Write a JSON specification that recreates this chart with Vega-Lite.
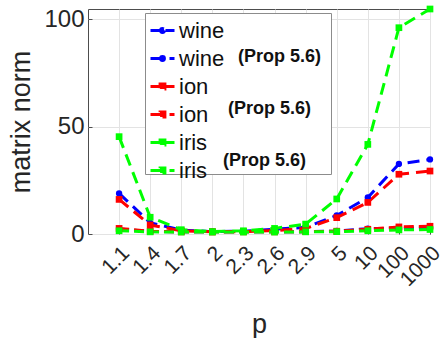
{
  "$schema": "https://vega.github.io/schema/vega-lite/v6.json",
  "width": 342,
  "height": 225,
  "autosize": "none",
  "padding": {"left": 88, "top": 9, "right": 13, "bottom": 104},
  "background": "white",
  "config": {
    "view": {"stroke": "#4d4d4d", "strokeWidth": 1},
    "font": "Liberation Sans",
    "legend": {"symbolBaseFillColor": "transparent", "symbolBaseStrokeColor": "transparent"}
  },
  "data": {
    "values": [
      {"p": "1.1", "series": "wine", "value": 2.3},
      {"p": "1.4", "series": "wine", "value": 1.2},
      {"p": "1.7", "series": "wine", "value": 1.0},
      {"p": "2", "series": "wine", "value": 1.0},
      {"p": "2.3", "series": "wine", "value": 1.0},
      {"p": "2.6", "series": "wine", "value": 1.0},
      {"p": "2.9", "series": "wine", "value": 1.1},
      {"p": "5", "series": "wine", "value": 1.4},
      {"p": "10", "series": "wine", "value": 2.5},
      {"p": "100", "series": "wine", "value": 2.7},
      {"p": "1000", "series": "wine", "value": 2.9},
      {"p": "1.1", "series": "wine (Prop 5.6)", "value": 18.9},
      {"p": "1.4", "series": "wine (Prop 5.6)", "value": 5.2},
      {"p": "1.7", "series": "wine (Prop 5.6)", "value": 1.8},
      {"p": "2", "series": "wine (Prop 5.6)", "value": 1.1},
      {"p": "2.3", "series": "wine (Prop 5.6)", "value": 1.3},
      {"p": "2.6", "series": "wine (Prop 5.6)", "value": 2.2},
      {"p": "2.9", "series": "wine (Prop 5.6)", "value": 3.1},
      {"p": "5", "series": "wine (Prop 5.6)", "value": 8.6},
      {"p": "10", "series": "wine (Prop 5.6)", "value": 17.0},
      {"p": "100", "series": "wine (Prop 5.6)", "value": 32.6},
      {"p": "1000", "series": "wine (Prop 5.6)", "value": 34.7},
      {"p": "1.1", "series": "ion", "value": 2.6},
      {"p": "1.4", "series": "ion", "value": 1.3},
      {"p": "1.7", "series": "ion", "value": 1.0},
      {"p": "2", "series": "ion", "value": 1.0},
      {"p": "2.3", "series": "ion", "value": 1.0},
      {"p": "2.6", "series": "ion", "value": 1.0},
      {"p": "2.9", "series": "ion", "value": 1.1},
      {"p": "5", "series": "ion", "value": 1.3},
      {"p": "10", "series": "ion", "value": 2.2},
      {"p": "100", "series": "ion", "value": 3.3},
      {"p": "1000", "series": "ion", "value": 3.6},
      {"p": "1.1", "series": "ion (Prop 5.6)", "value": 16.1},
      {"p": "1.4", "series": "ion (Prop 5.6)", "value": 4.2},
      {"p": "1.7", "series": "ion (Prop 5.6)", "value": 1.5},
      {"p": "2", "series": "ion (Prop 5.6)", "value": 1.0},
      {"p": "2.3", "series": "ion (Prop 5.6)", "value": 1.1},
      {"p": "2.6", "series": "ion (Prop 5.6)", "value": 1.6},
      {"p": "2.9", "series": "ion (Prop 5.6)", "value": 2.6},
      {"p": "5", "series": "ion (Prop 5.6)", "value": 7.6},
      {"p": "10", "series": "ion (Prop 5.6)", "value": 14.7},
      {"p": "100", "series": "ion (Prop 5.6)", "value": 27.8},
      {"p": "1000", "series": "ion (Prop 5.6)", "value": 29.3},
      {"p": "1.1", "series": "iris", "value": 1.5},
      {"p": "1.4", "series": "iris", "value": 1.0},
      {"p": "1.7", "series": "iris", "value": 0.9},
      {"p": "2", "series": "iris", "value": 0.9},
      {"p": "2.3", "series": "iris", "value": 0.9},
      {"p": "2.6", "series": "iris", "value": 0.9},
      {"p": "2.9", "series": "iris", "value": 1.0},
      {"p": "5", "series": "iris", "value": 1.1},
      {"p": "10", "series": "iris", "value": 1.5},
      {"p": "100", "series": "iris", "value": 1.9},
      {"p": "1000", "series": "iris", "value": 2.1},
      {"p": "1.1", "series": "iris (Prop 5.6)", "value": 45.3},
      {"p": "1.4", "series": "iris (Prop 5.6)", "value": 7.8},
      {"p": "1.7", "series": "iris (Prop 5.6)", "value": 2.0},
      {"p": "2", "series": "iris (Prop 5.6)", "value": 1.1},
      {"p": "2.3", "series": "iris (Prop 5.6)", "value": 1.5},
      {"p": "2.6", "series": "iris (Prop 5.6)", "value": 2.6},
      {"p": "2.9", "series": "iris (Prop 5.6)", "value": 4.6},
      {"p": "5", "series": "iris (Prop 5.6)", "value": 16.3},
      {"p": "10", "series": "iris (Prop 5.6)", "value": 41.7},
      {"p": "100", "series": "iris (Prop 5.6)", "value": 96.0},
      {"p": "1000", "series": "iris (Prop 5.6)", "value": 104.7}
    ]
  },
  "encoding": {
    "x": {
      "field": "p",
      "type": "ordinal",
      "sort": ["1.1", "1.4", "1.7", "2", "2.3", "2.6", "2.9", "5", "10", "100", "1000"],
      "scale": {
        "type": "point",
        "domain": ["1.1", "1.4", "1.7", "2", "2.3", "2.6", "2.9", "5", "10", "100", "1000"],
        "padding": 0.5,
        "align": 1
      },
      "axis": {
        "title": "p",
        "titleFontSize": 27,
        "titleFontWeight": "normal",
        "titleColor": "#262626",
        "titlePadding": 22,
        "labelFontSize": 21,
        "labelColor": "#262626",
        "labelAngle": -45,
        "labelAlign": "right",
        "labelBaseline": "top",
        "labelPadding": 12,
        "labelOffset": -1,
        "labelOverlap": false,
        "labelFlush": false,
        "labelBound": false,
        "tickSize": -4,
        "tickColor": "#4d4d4d",
        "domain": false,
        "grid": true,
        "gridColor": "#e3e3e3"
      }
    },
    "y": {
      "field": "value",
      "type": "quantitative",
      "scale": {"domain": [0, 104.7], "nice": false, "zero": false},
      "axis": {
        "title": "matrix norm",
        "titleFontSize": 27,
        "titleFontWeight": "normal",
        "titleColor": "#262626",
        "titlePadding": 8,
        "values": [0, 50, 100],
        "labelFontSize": 24,
        "labelColor": "#262626",
        "labelPadding": 8,
        "tickSize": -4,
        "tickColor": "#4d4d4d",
        "domain": false,
        "grid": true,
        "gridColor": "#e3e3e3"
      }
    },
    "color": {
      "field": "series",
      "type": "nominal",
      "scale": {
        "domain": ["wine", "wine (Prop 5.6)", "ion", "ion (Prop 5.6)", "iris", "iris (Prop 5.6)"],
        "range": ["#0000ff", "#0000ff", "#ff0000", "#ff0000", "#00ff00", "#00ff00"]
      },
      "legend": {
        "orient": "none",
        "legendX": 57,
        "legendY": 4,
        "zindex": 2,
        "title": null,
        "padding": 4,
        "labelFontSize": 22,
        "labelColor": "#111111",
        "labelOffset": 3,
        "labelLimit": 400,
        "rowPadding": 3,
        "symbolType": "M-1,0H1M-0.2,-0.2H0.2V0.2H-0.2Z",
        "symbolSize": 576,
        "symbolStrokeWidth": 3,
        "labelExpr": "split(datum.label, ' ')[0]",
        "encode": {
          "symbols": {
            "update": {
              "strokeDash": {"scale": "strokeDash", "field": "value"},
              "shape": {"signal": "indexof(datum.value, 'wine') == 0 ? 'M-1,0H1M0.16,0A0.16,0.16 0 1,1 -0.16,0A0.16,0.16 0 1,1 0.16,0Z' : 'M-1,0H1M-0.2,-0.2H0.2V0.2H-0.2Z'"}
            }
          }
        }
      }
    }
  },
  "layer": [
    {
      "mark": {"type": "line", "strokeWidth": 3},
      "encoding": {
        "strokeDash": {
          "field": "series",
          "type": "nominal",
          "scale": {
            "domain": ["wine", "wine (Prop 5.6)", "ion", "ion (Prop 5.6)", "iris", "iris (Prop 5.6)"],
            "range": [[10, 5], [12, 7], [10, 5], [12, 7], [10, 5], [12, 7]]
          },
          "legend": null
        },
        "opacity": {
          "field": "series",
          "type": "nominal",
          "scale": {
            "domain": ["iris (Prop 5.6)", "iris", "ion (Prop 5.6)", "ion", "wine (Prop 5.6)", "wine"],
            "range": [1, 1, 1, 1, 1, 1]
          },
          "legend": {
            "orient": "none",
            "legendX": 57,
            "legendY": 4,
            "zindex": 1,
            "title": null,
            "padding": 4,
            "fillColor": "white",
            "strokeColor": "#8c8c8c",
            "values": ["wine", "wine (Prop 5.6)", "ion", "ion (Prop 5.6)", "iris", "iris (Prop 5.6)"],
            "labelFontSize": 18,
            "labelFontWeight": "bold",
            "labelColor": "#111111",
            "labelOffset": 47,
            "labelLimit": 400,
            "rowPadding": 3,
            "symbolType": "M-1,0H1",
            "symbolSize": 576,
            "symbolStrokeWidth": 3,
            "symbolOpacity": 0,
            "labelExpr": "indexof(datum.label, 'Prop') < 0 ? '' : (indexof(datum.label, 'wine') == 0 ? '\u200b\u00a0\u00a0\u00a0(Prop 5.6)\u00a0\u200b' : (indexof(datum.label, 'ion') == 0 ? '\u200b\u00a0(Prop 5.6)' : '(Prop 5.6)'))"
          }
        }
      }
    },
    {
      "transform": [{"filter": {"field": "series", "oneOf": ["wine", "wine (Prop 5.6)"]}}],
      "mark": {"type": "point", "filled": true, "size": 40, "shape": "circle", "opacity": 1}
    },
    {
      "transform": [{"filter": {"field": "series", "oneOf": ["ion", "ion (Prop 5.6)", "iris", "iris (Prop 5.6)"]}}],
      "mark": {"type": "point", "filled": true, "size": 45, "shape": "square", "opacity": 1}
    }
  ]
}
